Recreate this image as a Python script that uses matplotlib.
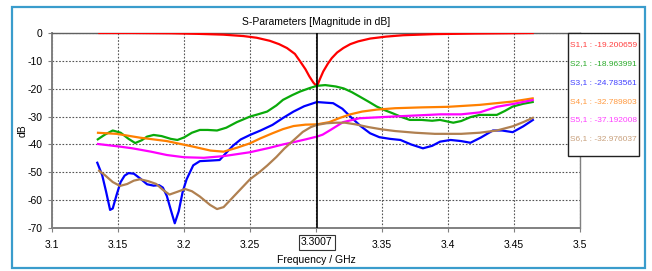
import matplotlib
matplotlib.use("Agg")
import matplotlib.pyplot as plt
from matplotlib.patches import Rectangle

plt.rcParams['font.family'] = ['Liberation Sans Narrow', 'Liberation Sans', 'DejaVu Sans']
plt.rcParams['axes.unicode_minus'] = False

# ---- data ----
f_s11 = [3.135, 3.16, 3.19, 3.21, 3.23, 3.245, 3.255, 3.265, 3.272, 3.278, 3.284, 3.288, 3.292, 3.295,
         3.298, 3.3007, 3.303, 3.3055, 3.309, 3.312, 3.316, 3.3207, 3.326, 3.332, 3.341, 3.353, 3.366,
         3.39, 3.42, 3.445, 3.465]
s11 = [0, 0, -0.1, -0.3, -0.6, -1.1, -1.7, -2.8, -4.0, -5.4, -7.5, -10.2, -13, -15.6,
       -17.8, -19.2, -16.5, -13.8, -11, -9, -7, -5.4, -4.0, -3.0, -2.0, -1.3, -0.8,
       -0.4, -0.2, -0.1, 0]

f_s21 = [3.134, 3.14, 3.146, 3.152, 3.158, 3.163, 3.168, 3.172, 3.177, 3.183, 3.19, 3.195, 3.2, 3.206,
         3.212, 3.218, 3.225, 3.232, 3.24, 3.25, 3.256, 3.263, 3.27, 3.275, 3.282, 3.288, 3.295, 3.3007,
         3.307, 3.315, 3.321, 3.327, 3.333, 3.34, 3.346, 3.352, 3.358, 3.365, 3.371, 3.38, 3.388, 3.394,
         3.4, 3.404, 3.41, 3.417, 3.424, 3.43, 3.437, 3.443, 3.449, 3.457, 3.465]
s21 = [-38.4, -36.5, -35, -35.8, -38, -39.5, -38.5, -37.2, -36.6, -37, -38, -38.4, -37.5, -35.8,
       -34.8, -34.8, -35, -34, -32, -30, -29.2, -28.2, -26, -24, -22.3, -21, -19.8, -18.96,
       -18.7, -19.2, -19.9, -21.2, -22.8, -24.7, -26.4, -27.7, -28.8, -30.2, -31.2, -31.2, -31.5, -31.2,
       -31.8, -32.2, -31.6, -30.2, -29.4, -29.4, -29.4, -28, -26.4, -25.4, -24.7]

f_s31 = [3.134, 3.138, 3.141, 3.144, 3.146, 3.149, 3.152, 3.155, 3.158, 3.162, 3.167, 3.172, 3.177,
         3.181, 3.184, 3.187, 3.19, 3.193, 3.196, 3.199, 3.202, 3.207, 3.212, 3.22, 3.227, 3.232, 3.237,
         3.243, 3.25, 3.258, 3.267, 3.275, 3.283, 3.291, 3.3007, 3.307, 3.313, 3.32, 3.326, 3.334, 3.341,
         3.348, 3.356, 3.364, 3.372, 3.381, 3.388, 3.394, 3.402, 3.41, 3.417, 3.425, 3.434, 3.441, 3.449,
         3.457, 3.465]
s31 = [-46.2, -51, -57, -63.5, -63, -58, -53.5, -51.2, -50.3, -50.5, -52.3, -54.3, -54.8,
       -54.6, -55.5, -58.5, -63.5, -68.3, -64, -57, -52.5, -47.5, -46, -45.8, -45.6, -43, -40.5,
       -38.2, -36.6, -35, -33, -30.5, -28.2, -26.3, -24.78, -25, -25.2, -27.2, -30, -33.5, -36,
       -37.4, -38, -38.4, -40, -41.4, -40.5, -39, -38.4, -38.8, -39.4, -37.5, -35, -35, -35.6,
       -33.5, -31]

f_s41 = [3.134, 3.149, 3.167, 3.187, 3.207, 3.22, 3.23, 3.24, 3.25, 3.258, 3.267, 3.275, 3.283, 3.292,
         3.3007, 3.31, 3.318, 3.326, 3.335, 3.346, 3.36, 3.38, 3.4, 3.424, 3.449, 3.465]
s41 = [-35.8, -36.2, -37.6, -38.8, -40.8, -42.2, -42.6, -41.2, -39.6, -37.8, -36, -34.5, -33.4, -32.9,
       -32.79, -32, -30.5, -29.2, -28.2, -27.5, -27, -26.7, -26.5, -25.8, -24.6, -23.4]

f_s51 = [3.134, 3.15, 3.161, 3.175, 3.187, 3.2, 3.215, 3.23, 3.25, 3.265, 3.275, 3.283, 3.292, 3.3007,
         3.305, 3.311, 3.3205, 3.333, 3.358, 3.394, 3.41, 3.424, 3.437, 3.449, 3.465]
s51 = [-39.8, -40.7, -41.4, -42.6, -43.8, -44.6, -44.8, -44.2, -42.8, -41.2, -40, -39.2, -38.2, -37.19,
       -36.5, -34.8, -32, -30.6, -30, -29.2, -29.2, -28.5, -26.5, -25.5, -24]

f_s61 = [3.135, 3.14, 3.146, 3.1515, 3.157, 3.162, 3.1667, 3.173, 3.179, 3.184, 3.189, 3.195, 3.2008,
         3.206, 3.212, 3.2197, 3.225, 3.23, 3.236, 3.243, 3.25, 3.257, 3.263, 3.27, 3.276, 3.283, 3.29,
         3.296, 3.3007, 3.308, 3.315, 3.322, 3.33, 3.34, 3.35, 3.36, 3.375, 3.39, 3.41, 3.424, 3.437,
         3.449, 3.457, 3.465]
s61 = [-49.2, -51, -53.5, -54.9, -54.2, -53, -52.5, -53.2, -54.2, -56.3, -58, -57, -56,
       -56.8, -58.7, -61.7, -63.2, -62.5, -59.5, -56, -52.5, -50, -47.6, -44.5, -41.5, -38.5, -35.5,
       -33.8, -32.98, -32.4, -32.2, -32.2, -32.8, -33.8, -34.6, -35.2, -35.8, -36.2, -36.2, -35.8, -35,
       -33.5, -32, -30.3]

names = ["S1,1", "S2,1", "S3,1", "S4,1", "S5,1", "S6,1"]
marker_vals = ["-19.200659", "-18.963991", "-24.783561", "-32.789803", "-37.192008", "-32.976037"]
marker_f = 3.3007
xticks = [3.1, 3.15, 3.2, 3.25, 3.3, 3.35, 3.4, 3.45, 3.5]
xticklabels = ["3.1", "3.15", "3.2", "3.25", "", "3.35", "3.4", "3.45", "3.5"]
yticks = [0, -10, -20, -30, -40, -50, -60, -70]

line_colors = ["#ff0000", "#0aaa0a", "#0000ff", "#ff8000", "#ff00ff", "#b08050"]
text_colors = ["#ff4040", "#2aaa2a", "#4040ff", "#ff9a40", "#ff40ff", "#c8a07c"]

fig = plt.figure(figsize=(6.52, 2.71), dpi=100)
fig.patch.set_facecolor("white")
# outer blue frame
fig.patches.append(Rectangle((12/652, 1-268/271), (645-12)/652, (268-7)/271, transform=fig.transFigure,
                             fill=False, edgecolor="#3a9ccc", linewidth=1.6))

ax = fig.add_axes([52/652, 1-228/271, (580-52)/652, (228-33)/271])
series = [(f_s11, s11), (f_s21, s21), (f_s31, s31), (f_s41, s41), (f_s51, s51), (f_s61, s61)]
for (fx, sy), c in zip(series, line_colors):
    ax.plot(fx, sy, color=c, linewidth=1.6, solid_capstyle="butt", zorder=3)

ax.set_xlim(3.1, 3.5)
ax.set_ylim(-70, 0)
ax.set_xticks(xticks)
ax.set_xticklabels(xticklabels)
ax.set_yticks(yticks)
ax.tick_params(labelsize=7.5, length=3, width=0.8, color="#808080", pad=6)
ax.tick_params(axis="y", pad=4)
ax.grid(True, linestyle=(0, (1.5, 1.5)), color="#555555", linewidth=0.8)
for s in ax.spines.values():
    s.set_color("#808080")
    s.set_linewidth(1.0)
ax.spines["left"].set_linewidth(1.4)
ax.spines["bottom"].set_linewidth(1.4)
ax.spines["top"].set_color("#606060")

ax.axvline(marker_f, color="black", linewidth=1.2, zorder=4)
ax.text(marker_f, -75.2, "3.3007", ha="center", va="center", fontsize=7.5,
        bbox=dict(boxstyle="square,pad=0.25", facecolor="white", edgecolor="#333333", linewidth=0.8),
        clip_on=False)

ax.set_title("S-Parameters [Magnitude in dB]", fontsize=7.5, pad=6)
ax.set_xlabel("Frequency / GHz", fontsize=7.5, labelpad=3)
ax.set_ylabel("dB", fontsize=7.5, labelpad=0)

# legend box with marker values
lx0, lx1, ly0, ly1 = 568, 639, 33, 156
fig.patches.append(Rectangle((lx0/652, 1-ly1/271), (lx1-lx0)/652, (ly1-ly0)/271, transform=fig.transFigure,
                             facecolor="white", edgecolor="#222222", linewidth=1.0, zorder=5))
ys = [45, 64, 83, 102, 120, 139]
for n, v, c, yy in zip(names, marker_vals, text_colors, ys):
    fig.text((lx0+lx1)/2/652, 1-yy/271, f"{n} : {v}", color=c, fontsize=6.0, ha="center", va="center", zorder=6)

fig.savefig("out.png", dpi=100)
